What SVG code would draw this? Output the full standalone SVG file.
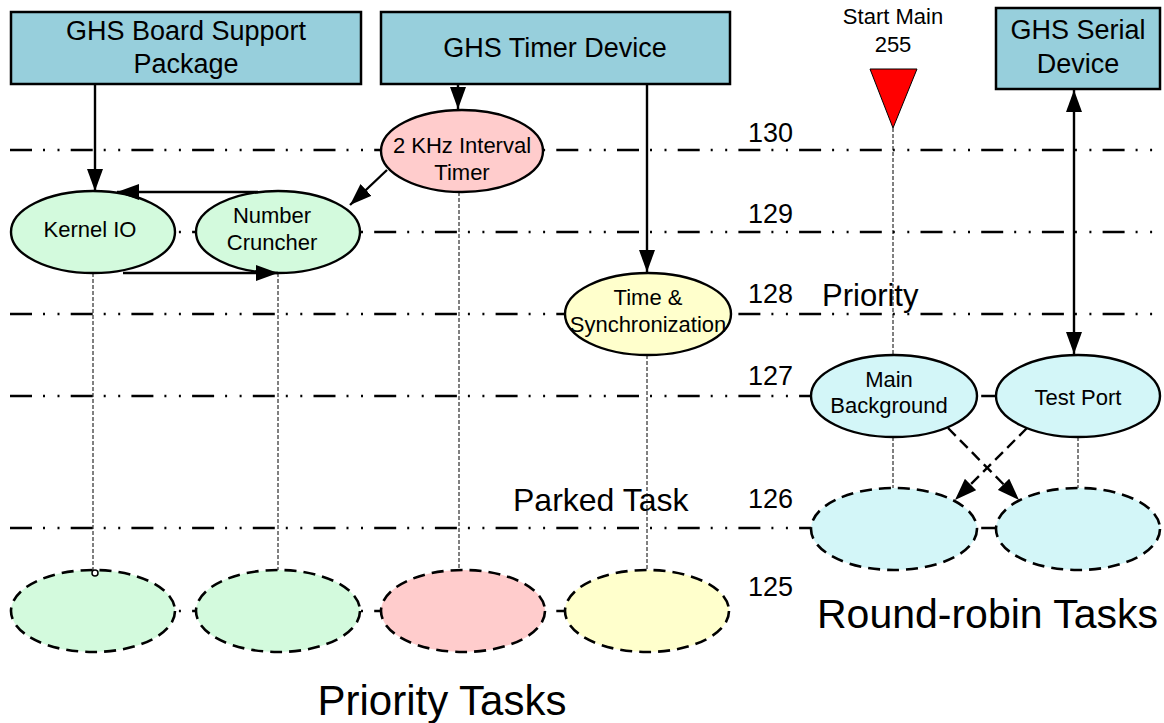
<svg xmlns="http://www.w3.org/2000/svg" width="1164" height="723" viewBox="0 0 1164 723">
<style>
.t{font-family:"Liberation Sans",Arial,sans-serif;fill:#000;text-anchor:middle}
.box{fill:#97CFDC;stroke:#000;stroke-width:2.5}
.lvl{stroke:#000;stroke-width:2.6;stroke-dasharray:22 11 2 12.5 2 11.2;fill:none}
.life{stroke:#000;stroke-width:1;stroke-dasharray:4 2;fill:none}
.el{stroke:#000;stroke-width:2.4}
.park{stroke:#000;stroke-width:2.6;stroke-dasharray:12 7}
.arr{stroke:#000;stroke-width:2.4;fill:none}
.g{fill:#D3FADD}.p{fill:#FFCCCC}.y{fill:#FFFFCC}.c{fill:#D3F6F8}
</style>
<defs>
<marker id="ah" viewBox="0 0 22 16" refX="22" refY="8" markerWidth="22" markerHeight="16" markerUnits="userSpaceOnUse" orient="auto-start-reverse">
<path d="M0,0 L22,8 L0,16 z" fill="#000"/>
</marker>
</defs>

<g id="levels">
<line class="lvl" x1="10" y1="150" x2="1162" y2="150"/>
<line class="lvl" x1="10" y1="232" x2="1162" y2="232"/>
<line class="lvl" x1="10" y1="314" x2="1162" y2="314"/>
<line class="lvl" x1="10" y1="396" x2="1162" y2="396"/>
<line class="lvl" x1="10" y1="528" x2="1162" y2="528"/>
<line class="lvl" x1="10" y1="611" x2="729" y2="611"/>
</g>

<g id="level-labels" class="t" style="text-anchor:start;font-size:27px">
<text x="748" y="142">130</text>
<text x="748" y="223">129</text>
<text x="748" y="303">128</text>
<text x="748" y="385">127</text>
<text x="748" y="508">126</text>
<text x="748" y="596">125</text>
</g>

<g id="lifelines">
<line class="life" x1="93" y1="273" x2="93" y2="570"/>
<line class="life" x1="278" y1="273" x2="278" y2="570"/>
<line class="life" x1="459" y1="192" x2="459" y2="570"/>
<line class="life" x1="647" y1="355" x2="647" y2="570"/>
<line class="life" x1="893" y1="128" x2="893" y2="355"/>
<line class="life" x1="893" y1="437" x2="893" y2="488"/>
<line class="life" x1="1078" y1="437" x2="1078" y2="488"/>
</g>

<g id="bsp"><rect class="box" x="11" y="12" width="350" height="72"/>
<text class="t" x="186" y="40" font-size="27">GHS Board Support</text>
<text class="t" x="186" y="73" font-size="27">Package</text></g>

<g id="timer-device"><rect class="box" x="381" y="12" width="349" height="72"/>
<text class="t" x="555" y="57" font-size="27">GHS Timer Device</text></g>

<g id="serial-device"><rect class="box" x="996" y="8" width="164" height="81"/>
<text class="t" x="1078" y="39" font-size="27">GHS Serial</text>
<text class="t" x="1078" y="73" font-size="27">Device</text></g>

<g id="start-main">
<text class="t" x="893" y="24" font-size="22">Start Main</text>
<text class="t" x="893" y="52" font-size="22">255</text>
<path d="M870,69 L917,69 L893,128 z" fill="#FF0000" stroke="#000" stroke-width="1"/>
</g>

<g id="interval-timer"><ellipse class="el p" cx="462" cy="151" rx="81" ry="41"/>
<text class="t" x="462" y="153" font-size="22">2 KHz Interval</text>
<text class="t" x="462" y="180" font-size="22">Timer</text></g>

<g id="kernel-io"><ellipse class="el g" cx="93" cy="232" rx="82" ry="41"/>
<text class="t" x="90" y="237" font-size="22">Kernel IO</text></g>

<g id="number-cruncher"><ellipse class="el g" cx="278" cy="232" rx="82" ry="41"/>
<text class="t" x="272" y="223" font-size="22">Number</text>
<text class="t" x="272" y="250" font-size="22">Cruncher</text></g>

<g id="time-sync"><ellipse class="el y" cx="648" cy="314" rx="83" ry="41"/>
<text class="t" x="648" y="305" font-size="22">Time &amp;</text>
<text class="t" x="648" y="332" font-size="22">Synchronization</text></g>

<g id="main-background"><ellipse class="el c" cx="894" cy="396" rx="83" ry="41"/>
<text class="t" x="889" y="387" font-size="22">Main</text>
<text class="t" x="889" y="413" font-size="22">Background</text></g>

<g id="test-port"><ellipse class="el c" cx="1078" cy="396" rx="82" ry="41"/>
<text class="t" x="1078" y="405" font-size="22">Test Port</text></g>

<g id="parked-kernel-io"><ellipse class="park g" cx="93" cy="611" rx="82" ry="41"/></g>
<g id="parked-number-cruncher"><ellipse class="park g" cx="278" cy="611" rx="82" ry="41"/></g>
<g id="parked-interval-timer"><ellipse class="park p" cx="463" cy="611" rx="82" ry="41"/></g>
<g id="parked-time-sync"><ellipse class="park y" cx="647" cy="611" rx="82" ry="41"/></g>
<g id="parked-main-background"><ellipse class="park c" cx="894" cy="529" rx="83" ry="41"/></g>
<g id="parked-test-port"><ellipse class="park c" cx="1078" cy="529" rx="82" ry="41"/></g>

<g id="connectors">
<line class="arr" x1="95" y1="84" x2="95" y2="191" marker-end="url(#ah)"/>
<line class="arr" x1="458" y1="84" x2="458" y2="109" marker-end="url(#ah)"/>
<line class="arr" x1="647" y1="84" x2="647" y2="272" marker-end="url(#ah)"/>
<line class="arr" x1="387" y1="170" x2="350" y2="205" marker-end="url(#ah)"/>
<line class="arr" x1="258" y1="192" x2="117" y2="192" marker-end="url(#ah)"/>
<line class="arr" x1="123" y1="273" x2="278" y2="273" marker-end="url(#ah)"/>
<line class="arr" x1="1074" y1="90" x2="1074" y2="354" marker-start="url(#ah)" marker-end="url(#ah)"/>
<line class="arr" x1="948" y1="428" x2="1019" y2="500" stroke-dasharray="11 6" stroke-width="2.6" marker-end="url(#ah)"/>
<line class="arr" x1="1027" y1="428" x2="955" y2="500" stroke-dasharray="11 6" stroke-width="2.6" marker-end="url(#ah)"/>
<circle cx="95" cy="573" r="3" fill="#fff" stroke="#000" stroke-width="1.5"/>
</g>

<g id="titles">
<text class="t" style="text-anchor:start" x="822" y="306" font-size="31">Priority</text>
<text class="t" style="text-anchor:start" x="513" y="511" font-size="32">Parked Task</text>
<text class="t" style="text-anchor:start" x="817" y="628" font-size="41">Round-robin Tasks</text>
<text class="t" x="442" y="715" font-size="42">Priority Tasks</text>
</g>
</svg>
